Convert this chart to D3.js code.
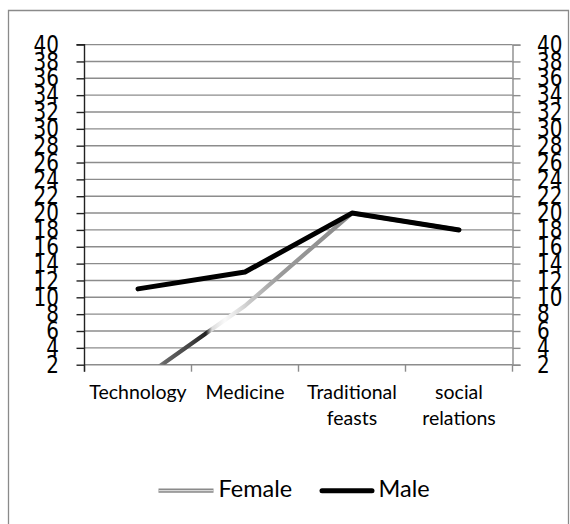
<!DOCTYPE html>
<html>
<head>
<meta charset="utf-8">
<script src="https://cdn.jsdelivr.net/npm/d3@7"></script>
<style>
  html, body { margin: 0; padding: 0; background: #fff; }
  svg { display: block; }
</style>
</head>
<body>
<script>
const categories = ["Technology", "Medicine", "Traditional feasts", "social relations"];
const categoryLines = [["Technology"], ["Medicine"], ["Traditional", "feasts"], ["social", "relations"]];
const femaleValues = [0, 9, 20, 18];
const maleValues = [11, 13, 20, 18];
const yTicks = [2, 4, 6, 8, 10, 12, 14, 16, 18, 20, 22, 24, 26, 28, 30, 32, 34, 36, 38, 40];
const seriesNames = ["Female", "Male"];

const W = 570, H = 524;
const svg = d3.select("body").append("svg").attr("width", W).attr("height", H);

// outer frame
svg.append("path")
  .attr("d", "M8.5,530 L8.5,10.5 L568.5,10.5 L568.5,530")
  .attr("fill", "none").attr("stroke", "#8a8a8a").attr("stroke-width", 1.3);

const plot = { left: 84.5, right: 512.5, top: 44.6, bottom: 364.7 };

const x = d3.scaleBand().domain(categories).range([plot.left, plot.right]).padding(0);
const y = d3.scaleLinear().domain([2, 40]).range([plot.bottom, plot.top]);

// gridlines
svg.append("g").selectAll("line").data(yTicks).join("line")
  .attr("x1", plot.left).attr("x2", plot.right)
  .attr("y1", d => y(d)).attr("y2", d => y(d))
  .attr("stroke", "#8c8c8c").attr("stroke-width", 1.4);

const labelStretch = "scale(1,1.2)";

// right axis (gray)
const rightAxis = d3.axisRight(y).tickValues(yTicks).tickSize(8).tickPadding(16.5);
const gR = svg.append("g").attr("transform", `translate(${plot.right},0)`).call(rightAxis);
gR.select(".domain").attr("stroke", "#8c8c8c").attr("stroke-width", 1.4);
gR.selectAll(".tick line").attr("stroke", "#8c8c8c").attr("stroke-width", 1.4);
gR.selectAll(".tick text").attr("font-family", "DejaVu Sans").attr("font-size", 20)
  .attr("fill", "#000").attr("transform", labelStretch);

// bottom axis (category ticks)
const xTickPos = categories.map(c => x(c)).concat([plot.right]);
svg.append("g").selectAll("line").data(xTickPos).join("line")
  .attr("x1", d => d).attr("x2", d => d)
  .attr("y1", plot.bottom).attr("y2", plot.bottom + 7)
  .attr("stroke", "#8c8c8c").attr("stroke-width", 1.4);

// left axis (dark)
const leftAxis = d3.axisLeft(y).tickValues(yTicks).tickSize(8).tickPadding(17.5);
const gL = svg.append("g").attr("transform", `translate(${plot.left},0)`).call(leftAxis);
gL.select(".domain").attr("stroke", "#222").attr("stroke-width", 1.4)
  .attr("d", `M-8,${plot.top}H0V${plot.bottom + 7}`);
gL.selectAll(".tick line").attr("stroke", "#222").attr("stroke-width", 1.4);
gL.selectAll(".tick text").attr("font-family", "DejaVu Sans").attr("font-size", 20)
  .attr("fill", "#000").attr("transform", labelStretch);

// category labels
const labG = svg.append("g").attr("font-family", "Lato").attr("font-size", 19.5).attr("fill", "#000");
categories.forEach((c, i) => {
  const cx = x(c) + x.bandwidth() / 2;
  const t = labG.append("text").attr("text-anchor", "middle")
    .attr("x", cx).attr("y", 399.3);
  categoryLines[i].forEach((ln, j) => {
    t.append("tspan").attr("x", cx).attr("dy", j === 0 ? 0 : 26).text(ln);
  });
});

// clip for plot
const defs = svg.append("defs");
defs.append("clipPath").attr("id", "plotclip").append("rect")
  .attr("x", plot.left).attr("y", plot.top - 10)
  .attr("width", plot.right - plot.left + 10).attr("height", plot.bottom - plot.top + 10);

// Female gradient
const grad = defs.append("linearGradient").attr("id", "femGrad")
  .attr("gradientUnits", "userSpaceOnUse")
  .attr("x1", 150).attr("y1", 0).attr("x2", 360).attr("y2", 0);
[[0, "#9a9a9a"], [15, "#666"], [40, "#444"], [56, "#222"], [62, "#dcdcdc"], [75, "#fafafa"], [100, "#c8c8c8"], [130, "#9a9a9a"], [210, "#888"]]
  .forEach(([o, c]) => grad.append("stop").attr("offset", (o / 210)).attr("stop-color", c));

const line = d3.line().x((d, i) => x(categories[i]) + x.bandwidth() / 2).y(d => y(d));

svg.append("path").datum(femaleValues)
  .attr("clip-path", "url(#plotclip)")
  .attr("d", line).attr("fill", "none")
  .attr("stroke", "url(#femGrad)").attr("stroke-width", 4.2)
  .attr("stroke-linejoin", "round").attr("stroke-linecap", "round");

svg.append("path").datum(maleValues)
  .attr("d", line).attr("fill", "none")
  .attr("stroke", "#000").attr("stroke-width", 5)
  .attr("stroke-linejoin", "round").attr("stroke-linecap", "round");

// legend
const legY = 490.7;
const lg = svg.append("g");
lg.append("line").attr("x1", 158.5).attr("x2", 213.5).attr("y1", legY).attr("y2", legY)
  .attr("stroke", "#8a8a8a").attr("stroke-width", 4.2);
lg.append("line").attr("x1", 158.5).attr("x2", 213.5).attr("y1", legY).attr("y2", legY)
  .attr("stroke", "#d8d8d8").attr("stroke-width", 1.2);
lg.append("text").attr("x", 218.5).attr("y", 496.8).attr("font-family", "Lato").attr("font-size", 23.5)
  .attr("fill", "#000").text(seriesNames[0]);
lg.append("line").attr("x1", 322).attr("x2", 372).attr("y1", legY).attr("y2", legY)
  .attr("stroke", "#000").attr("stroke-width", 5).attr("stroke-linecap", "round");
lg.append("text").attr("x", 378.5).attr("y", 496.8).attr("font-family", "Lato").attr("font-size", 23.5)
  .attr("fill", "#000").text(seriesNames[1]);
</script>
</body>
</html>
